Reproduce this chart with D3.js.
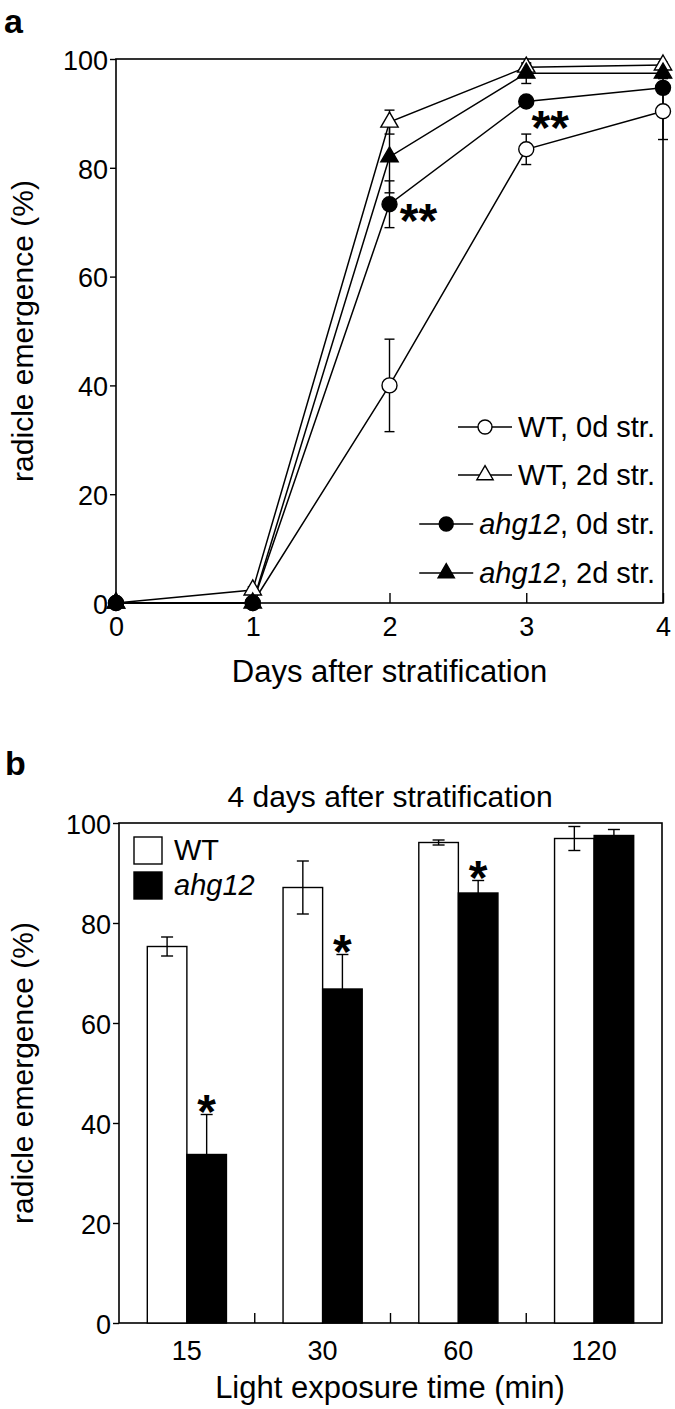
<!DOCTYPE html>
<html><head><meta charset="utf-8">
<script src="https://cdn.jsdelivr.net/npm/d3@7"></script>
<style>
body{margin:0;background:#fff;}
text{font-family:"Liberation Sans",Arial,sans-serif;fill:#000;}
</style></head>
<body>
<svg id="c" width="675" height="1409"></svg>
<script>
// ---- Panel a data ----
const days = [0, 1, 2, 3, 4];
const dayTicks = [0, 1, 2, 3, 4];
const yTicksA = [0, 20, 40, 60, 80, 100];
const wt0 = [0, 0, 40, 83.4, 90.4];
const wt0Err = [0, 0, 8.5, 2.8, 5.2];
const wt2 = [0, 2.4, 88.4, 98.5, 98.9];
const wt2Err = [0, 0.6, 2.2, 0.6, 0.5];
const ahg0 = [0, 0, 73.3, 92.2, 94.7];
const ahg0Err = [0, 0, 4.3, 0.5, 1];
const ahg2 = [0, 0, 82, 97.4, 97.4];
const ahg2Err = [0, 0, 6.6, 1.9, 1];
const legendA = ["WT, 0d str.", "WT, 2d str.", "ahg12, 0d str.", "ahg12, 2d str."];
const sigDaysA = [2, 3];

// ---- Panel b data ----
const times = ["15", "30", "60", "120"];
const yTicksB = [0, 20, 40, 60, 80, 100];
const wtB = [75.3, 87.1, 96.1, 96.9];
const wtBErr = [1.9, 5.3, 0.5, 2.4];
const ahgB = [33.7, 66.8, 86, 97.5];
const ahgBErr = [8, 6.9, 2.5, 1.2];
const sigB = [true, true, true, false];

const svg = d3.select("#c");
const FONT = '"Liberation Sans",Arial,sans-serif';

// ================= Panel a =================
const xA = d3.scaleLinear().domain([0, 4]).range([116, 663]);
const yA = d3.scaleLinear().domain([0, 100]).range([603, 59]);
const gA = svg.append("g");

gA.append("text").attr("x", 4).attr("y", 33).attr("font-size", 34).attr("font-weight", "bold").text("a");

// frame
gA.append("rect").attr("x", xA(0)).attr("y", yA(100)).attr("width", xA(4) - xA(0)).attr("height", yA(0) - yA(100))
  .attr("fill", "none").attr("stroke", "#000").attr("stroke-width", 1.6);

// y axis
const yAxA = d3.axisLeft(yA).tickValues(yTicksA).tickSize(6).tickPadding(2).tickFormat(d3.format("d"));
gA.append("g").attr("transform", `translate(${xA(0)},0)`).call(yAxA)
  .call(g => { g.select(".domain").remove(); g.selectAll("line").attr("stroke-width", 1.4);
    g.selectAll("text").attr("font-size", 27).attr("font-family", FONT).attr("dy", "0.38em"); });

// x axis (inward ticks)
const xAxA = d3.axisBottom(xA).tickValues(dayTicks).tickSize(-10).tickPadding(14).tickFormat(d3.format("d"));
gA.append("g").attr("transform", `translate(0,${yA(0)})`).call(xAxA)
  .call(g => { g.select(".domain").remove(); g.selectAll("line").attr("stroke-width", 1.4);
    g.selectAll("text").attr("font-size", 27).attr("font-family", FONT); });

gA.append("text").attr("x", (xA(0) + xA(4)) / 2).attr("y", 682).attr("text-anchor", "middle").attr("font-size", 31)
  .text("Days after stratification");
gA.append("text").attr("transform", `translate(33,${(yA(0) + yA(100)) / 2}) rotate(-90)`).attr("text-anchor", "middle")
  .attr("font-size", 30).text("radicle emergence (%)");

const seriesA = [
  {v: wt0, e: wt0Err, shape: "circle", fill: "#fff"},
  {v: wt2, e: wt2Err, shape: "triangle", fill: "#fff"},
  {v: ahg0, e: ahg0Err, shape: "circle", fill: "#000"},
  {v: ahg2, e: ahg2Err, shape: "triangle", fill: "#000"}
];
const line = d3.line().x((d, i) => xA(days[i])).y(d => yA(d));
const sym = s => s === "circle" ? d3.symbol(d3.symbolCircle, Math.PI * 7.5 * 7.5) : d3.symbol(d3.symbolTriangle, 130);

seriesA.forEach(s => {
  gA.append("path").attr("d", line(s.v)).attr("fill", "none").attr("stroke", "#000").attr("stroke-width", 1.5);
});
// error bars
seriesA.forEach(s => {
  s.v.forEach((v, i) => {
    if (!s.e[i]) return;
    const x = xA(days[i]), y1 = yA(v - s.e[i]), y2 = yA(v + s.e[i]);
    gA.append("line").attr("x1", x).attr("x2", x).attr("y1", y1).attr("y2", y2).attr("stroke", "#000").attr("stroke-width", 1.4);
    [y1, y2].forEach(y => gA.append("line").attr("x1", x - 5).attr("x2", x + 5).attr("y1", y).attr("y2", y).attr("stroke", "#000").attr("stroke-width", 1.4));
  });
});
// markers
seriesA.forEach(s => {
  s.v.forEach((v, i) => {
    gA.append("path").attr("d", sym(s.shape)()).attr("transform", `translate(${xA(days[i])},${yA(v)})`)
      .attr("fill", s.fill).attr("stroke", "#000").attr("stroke-width", 1.4);
  });
});
// significance
const sigOffA = {2: [29, 7], 3: [24, 17]};
sigDaysA.forEach(d => {
  gA.append("text").attr("x", xA(d) + sigOffA[d][0]).attr("y", yA(ahg0[d]) + sigOffA[d][1] + 26)
    .attr("text-anchor", "middle").attr("font-size", 48).attr("font-weight", "bold").text("**");
});

// legend a
const legRowY = [427, 475, 524, 573];
legendA.forEach((t, i) => {
  const s = seriesA[i];
  const txt = gA.append("text").attr("x", 655).attr("y", legRowY[i]).attr("dy", "0.36em").attr("text-anchor", "end").attr("font-size", 29);
  const parts = t.split(",");
  if (parts[0] === "ahg12") {
    txt.append("tspan").attr("font-style", "italic").text("ahg12");
    txt.append("tspan").text("," + parts.slice(1).join(","));
  } else txt.text(t);
  const w = txt.node().getComputedTextLength();
  const x1 = 655 - w - 6, x0 = x1 - 54;
  gA.append("line").attr("x1", x0).attr("x2", x1).attr("y1", legRowY[i]).attr("y2", legRowY[i]).attr("stroke", "#000").attr("stroke-width", 1.5);
  gA.append("path").attr("d", (s.shape === "circle" ? d3.symbol(d3.symbolCircle, Math.PI * 49) : d3.symbol(d3.symbolTriangle, 115))())
    .attr("transform", `translate(${(x0 + x1) / 2},${legRowY[i]})`).attr("fill", s.fill).attr("stroke", "#000").attr("stroke-width", 1.4);
});

// ================= Panel b =================
const xB = d3.scaleBand().domain(times).range([119, 662]).paddingInner(0.417).paddingOuter(0.2085);
const yB = d3.scaleLinear().domain([0, 100]).range([1323, 823]);
const gB = svg.append("g");

gB.append("text").attr("x", 5).attr("y", 775).attr("font-size", 34).attr("font-weight", "bold").text("b");
gB.append("text").attr("x", 390).attr("y", 807).attr("text-anchor", "middle").attr("font-size", 30).text("4 days after stratification");

gB.append("rect").attr("x", 119).attr("y", yB(100)).attr("width", 662 - 119).attr("height", yB(0) - yB(100))
  .attr("fill", "none").attr("stroke", "#000").attr("stroke-width", 1.6);

const yAxB = d3.axisLeft(yB).tickValues(yTicksB).tickSize(6).tickPadding(2).tickFormat(d3.format("d"));
gB.append("g").attr("transform", `translate(119,0)`).call(yAxB)
  .call(g => { g.select(".domain").remove(); g.selectAll("line").attr("stroke-width", 1.4);
    g.selectAll("text").attr("font-size", 27).attr("font-family", FONT).attr("dy", "0.38em"); });

// inward ticks between groups
const step = xB.step();
times.slice(1).forEach(t => {
  const x = xB(t) - xB.paddingInner() * step / 2;
  gB.append("line").attr("x1", x).attr("x2", x).attr("y1", yB(0)).attr("y2", yB(0) - 10).attr("stroke", "#000").attr("stroke-width", 1.4);
});
times.forEach(t => {
  gB.append("text").attr("x", xB(t) + xB.bandwidth() / 2).attr("y", 1360).attr("text-anchor", "middle").attr("font-size", 27).text(t);
});
gB.append("text").attr("x", 390).attr("y", 1398).attr("text-anchor", "middle").attr("font-size", 31).text("Light exposure time (min)");
gB.append("text").attr("transform", `translate(33,${(yB(0) + yB(100)) / 2}) rotate(-90)`).attr("text-anchor", "middle")
  .attr("font-size", 30).text("radicle emergence (%)");

const xSub = d3.scaleBand().domain(["WT", "ahg12"]).range([0, xB.bandwidth()]);
const seriesB = [{k: "WT", v: wtB, e: wtBErr, fill: "#fff"}, {k: "ahg12", v: ahgB, e: ahgBErr, fill: "#000"}];
seriesB.forEach(s => {
  s.v.forEach((v, i) => {
    const x = xB(times[i]) + xSub(s.k), w = xSub.bandwidth();
    gB.append("rect").attr("x", x).attr("y", yB(v)).attr("width", w).attr("height", yB(0) - yB(v))
      .attr("fill", s.fill).attr("stroke", "#000").attr("stroke-width", 1.4);
    const cx = x + w / 2, y1 = yB(v - s.e[i]), y2 = yB(v + s.e[i]);
    gB.append("line").attr("x1", cx).attr("x2", cx).attr("y1", y1).attr("y2", y2).attr("stroke", "#000").attr("stroke-width", 1.4);
    [y1, y2].forEach(y => gB.append("line").attr("x1", cx - 6).attr("x2", cx + 6).attr("y1", y).attr("y2", y).attr("stroke", "#000").attr("stroke-width", 1.4));
    if (s.k === "ahg12" && sigB[i]) {
      gB.append("text").attr("x", cx).attr("y", y2 - 13 + 26).attr("text-anchor", "middle").attr("font-size", 48).attr("font-weight", "bold").text("*");
    }
  });
});

// legend b
const legB = [{k: "WT", fill: "#fff", y: 850}, {k: "ahg12", fill: "#000", y: 885}];
legB.forEach(l => {
  gB.append("rect").attr("x", 134).attr("y", l.y - 13).attr("width", 28).attr("height", 27).attr("fill", l.fill).attr("stroke", "#000").attr("stroke-width", 1.4);
  gB.append("text").attr("x", 174).attr("y", l.y).attr("dy", "0.36em").attr("font-size", 29)
    .attr("font-style", l.k === "ahg12" ? "italic" : "normal").text(l.k);
});
</script>
</body></html>
